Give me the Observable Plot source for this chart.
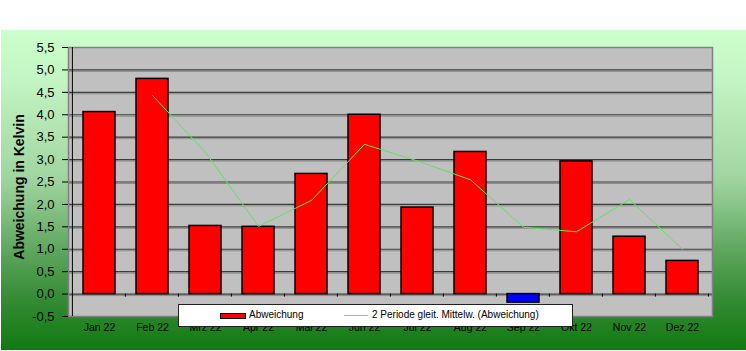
<!DOCTYPE html>
<html><head><meta charset="utf-8">
<script src="https://cdn.jsdelivr.net/npm/d3@7"></script>
<script src="https://cdn.jsdelivr.net/npm/@observablehq/plot@0.6"></script>
<style>
body{margin:0;background:#fff;font-family:"Liberation Sans",Arial,sans-serif;}
#wrap{position:relative;width:746px;height:351px;overflow:hidden;background:#fff;}
#bg{position:absolute;left:1px;top:30px;width:745px;height:320px;
 background:linear-gradient(to bottom,#ccffcc 0%,#c4f5c4 15%,#9fd49f 47%,#5ea65e 69%,#358b35 84%,#107a10 100%);}
#chart{position:absolute;left:0;top:0;}
#legend{position:absolute;left:178px;top:304px;width:393px;height:21px;background:#fff;border:1px solid #222;font-size:10px;color:#000;}
#legend .sw{position:absolute;left:41px;top:8px;width:24px;height:4px;background:#ff0000;border:1px solid #000;}
#legend .ln{position:absolute;left:165px;top:10px;width:24px;height:1px;background:#5ee65e;}
#legend .t{position:absolute;top:4px;line-height:12px;white-space:nowrap;}
</style></head><body>
<div id="wrap"><div id="bg"></div><div id="chart"></div><div id="legend"></div></div>
<script>
const months = ["Jan 22","Feb 22","Mrz 22","Apr 22","Mai 22","Jun 22","Jul 22","Aug 22","Sep 22","Okt 22","Nov 22","Dez 22"];
const abweichung = [4.06, 4.80, 1.52, 1.50, 2.68, 4.00, 1.93, 3.17, -0.19, 2.96, 1.28, 0.74];
const maMonths = ["Feb 22","Mrz 22","Apr 22","Mai 22","Jun 22","Jul 22","Aug 22","Sep 22","Okt 22","Nov 22","Dez 22"];
const maValues = [4.43, 3.16, 1.51, 2.09, 3.34, 2.97, 2.55, 1.49, 1.39, 2.11, 1.00];
const yTicks = [-0.5,0,0.5,1,1.5,2,2.5,3,3.5,4,4.5,5,5.5];
const gridLines = [0,0.5,1,1.5,2,2.5,3,3.5,4,4.5,5];
const seriesNames = ["Abweichung","2 Periode gleit. Mittelw. (Abweichung)"];
const yTitle = "Abweichung in Kelvin";

const bars = months.map((m,i)=>({month:m, value:abweichung[i]}));
const ma = maMonths.map((m,i)=>({month:m, value:maValues[i]}));

function categoryTicks(index, scales, values, dimensions) {
  const x = scales.x, y = scales.y;
  const step = x(months[1]) - x(months[0]);
  const x0 = x(months[0]) - 0.2*step;
  const g = d3.create("svg:g");
  const y0 = y(0);
  for (let k = 1; k <= months.length; k++) {
    const px = x0 + k*step;
    g.append("line").attr("x1",px).attr("x2",px).attr("y1",y0).attr("y2",y0+3)
      .attr("stroke","#000").attr("stroke-width",1);
  }
  g.append("line").attr("x1",x0).attr("x2",x0)
    .attr("y1",dimensions.marginTop).attr("y2",dimensions.height-dimensions.marginBottom)
    .attr("stroke","#000").attr("stroke-width",1);
  return g.node();
}

const chart = Plot.plot({
  width: 746, height: 351,
  marginLeft: 68, marginRight: 34, marginTop: 47, marginBottom: 35,
  style: {background:"transparent", fontFamily:"'Liberation Sans', Arial, sans-serif", color:"#000", overflow:"visible"},
  x: {domain: months, paddingInner: 0.4, paddingOuter: 0.2, align: 0.5, label: null},
  y: {domain: [-0.5, 5.5], label: null},
  marks: [
    Plot.frame({fill:"#c0c0c0"}),
    Plot.ruleY(gridLines, {stroke:"#8c8c8c", strokeWidth:1, dy:1.5}),
    Plot.ruleY(gridLines, {stroke:"#3c3c3c", strokeWidth:1.2}),
    Plot.barY(bars, {x:"month", y1:0, y2:"value", fill:d=>d.value<0?"#0000ff":"#ff0000", stroke:"#000", strokeWidth:1.5}),
    Plot.line(ma, {x:"month", y:"value", stroke:"#5ee65e", strokeWidth:1}),
    Plot.frame({stroke:"#808080", strokeWidth:1.5}),
    categoryTicks,
    Plot.axisY(yTicks, {tickSize:6, tickPadding:8, fontSize:13, tickFormat:d=>d.toFixed(1).replace(".",","), label:null, stroke:"#000"}),
    Plot.axisX({tickSize:0, tickPadding:7, fontSize:10.5, label:null}),
    Plot.text([yTitle], {text:d=>d, frameAnchor:"left", textAnchor:"middle", rotate:-90, dx:-49, dy:5, fontSize:14, fontWeight:"bold"})
  ]
});
document.getElementById("chart").appendChild(chart);

const lg = document.getElementById("legend");
lg.innerHTML = `<div class="sw"></div><div class="t" style="left:70px">${seriesNames[0]}</div>
<div class="ln"></div><div class="t" style="left:193px">${seriesNames[1]}</div>`;
</script>
</body></html>
